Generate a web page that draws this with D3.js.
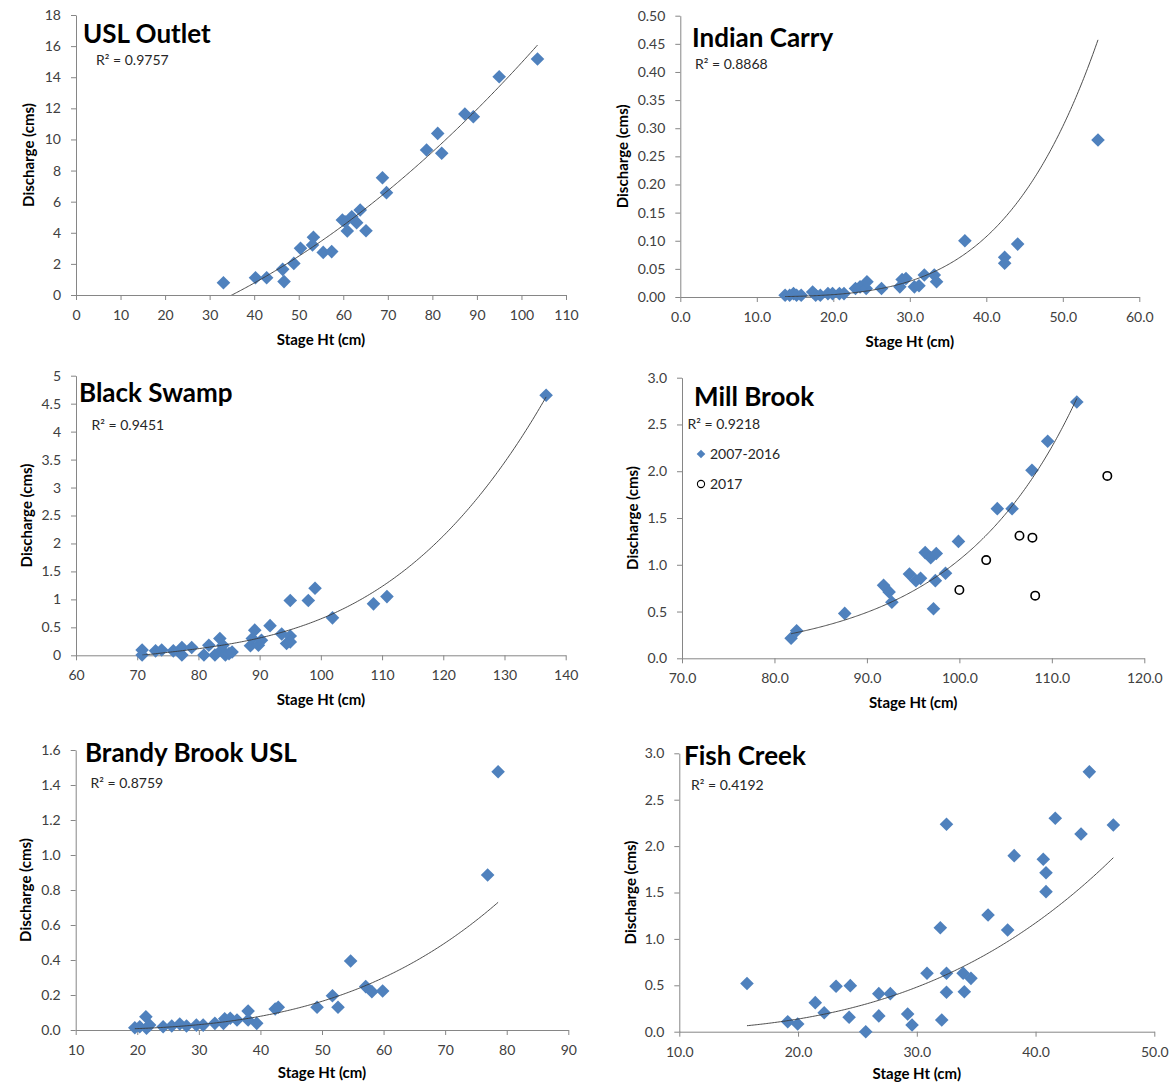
<!DOCTYPE html>
<html>
<head>
<meta charset="utf-8">
<script src="https://cdn.jsdelivr.net/npm/d3@7"></script>
<style>
  body { margin: 0; background: #fff; }
  svg { display: block; }
  text { font-family: Lato, "Open Sans", "DejaVu Sans", sans-serif; }
</style>
</head>
<body>
<svg id="chart" width="1172" height="1086"></svg>
<script>
// ---------- USL Outlet ----------
const uslStage = [33.1, 40.3, 42.8, 46.4, 46.7, 48.9, 50.4, 53.3, 53.1, 55.5, 57.4, 59.8, 60.4, 60.9, 61.9, 63.0, 63.8, 65.1, 68.8, 69.7, 78.7, 81.2, 82.1, 87.3, 89.2, 95.0, 103.6];
const uslDischarge = [0.79, 1.11, 1.11, 1.65, 0.86, 2.03, 3.0, 3.71, 3.21, 2.74, 2.79, 4.82, 4.71, 4.11, 5.03, 4.65, 5.46, 4.13, 7.54, 6.58, 9.32, 10.39, 9.11, 11.64, 11.46, 14.03, 15.17];
const uslTrendCoef = [-3.6035, 0.0586, 0.001267];          // 2nd-order polynomial
const uslXTicks = [0, 10, 20, 30, 40, 50, 60, 70, 80, 90, 100, 110];
const uslYTicks = [0, 2, 4, 6, 8, 10, 12, 14, 16, 18];

// ---------- Indian Carry ----------
const icStage = [13.7, 14.3, 14.8, 15.2, 15.8, 17.3, 17.7, 18.3, 19.3, 19.9, 20.8, 21.4, 22.9, 23.5, 24.3, 24.4, 26.3, 28.7, 29.0, 29.5, 30.6, 31.2, 31.9, 33.2, 33.5, 37.2, 42.4, 42.4, 44.1, 54.6];
const icDischarge = [0.003, 0.003, 0.006, 0.003, 0.003, 0.009, 0.003, 0.003, 0.006, 0.006, 0.006, 0.006, 0.015, 0.018, 0.015, 0.027, 0.015, 0.018, 0.031, 0.033, 0.018, 0.020, 0.039, 0.039, 0.027, 0.100, 0.0705, 0.060, 0.094, 0.279];
const icTrendCoef = [3.67e-9, 4.66];                        // power
const icXTicks = [0, 10, 20, 30, 40, 50, 60];
const icYTicks = [0, 0.05, 0.10, 0.15, 0.20, 0.25, 0.30, 0.35, 0.40, 0.45, 0.50];

// ---------- Black Swamp ----------
const bsStage = [70.8, 70.8, 73.0, 74.0, 75.9, 77.3, 77.3, 78.9, 80.9, 81.7, 82.7, 83.5, 83.8, 84.0, 84.4, 85.0, 85.5, 88.5, 88.8, 89.2, 89.8, 90.3, 91.7, 93.6, 94.4, 95.0, 95.0, 95.0, 97.95, 99.05, 101.9, 108.6, 110.8, 136.8];
const bsDischarge = [0.095, 0.005, 0.08, 0.095, 0.08, 0.14, 0.005, 0.14, 0.005, 0.18, 0.005, 0.30, 0.095, 0.18, 0.005, 0.03, 0.06, 0.17, 0.30, 0.45, 0.18, 0.27, 0.53, 0.38, 0.21, 0.345, 0.98, 0.24, 0.98, 1.20, 0.67, 0.92, 1.05, 4.65];
const bsTrendCoef = [-6.37576, 0.240284, -0.0031436, 1.4435e-5]; // 3rd-order polynomial
const bsXTicks = [60, 70, 80, 90, 100, 110, 120, 130, 140];
const bsYTicks = [0, 0.5, 1, 1.5, 2, 2.5, 3, 3.5, 4, 4.5, 5];

// ---------- Mill Brook ----------
const mbStage = [81.8, 82.4, 87.6, 91.8, 92.4, 92.7, 94.6, 95.3, 95.8, 96.3, 96.9, 97.5, 97.4, 97.2, 98.5, 99.9, 104.1, 105.7, 107.85, 109.55, 112.7];
const mbDischarge = [0.214, 0.295, 0.48, 0.78, 0.71, 0.60, 0.90, 0.83, 0.855, 1.13, 1.076, 1.12, 0.83, 0.53, 0.91, 1.25, 1.60, 1.60, 2.01, 2.32, 2.74];
const mb2017Stage = [100.0, 102.9, 106.5, 107.9, 108.2, 116.0];
const mb2017Discharge = [0.73, 1.05, 1.31, 1.29, 0.67, 1.95];
const mbSeriesNames = ["2007-2016", "2017"];
const mbTrendCoef = [0.000512, 0.0763];                     // exponential
const mbXTicks = [70, 80, 90, 100, 110, 120];
const mbYTicks = [0, 0.5, 1.0, 1.5, 2.0, 2.5, 3.0];

// ---------- Brandy Brook USL ----------
const bbStage = [19.6, 20.4, 21.4, 21.5, 22.0, 24.2, 25.6, 26.9, 28.0, 29.6, 30.7, 32.6, 34.0, 34.2, 35.1, 36.2, 38.0, 38.0, 39.4, 42.4, 42.9, 49.2, 51.7, 52.6, 54.65, 57.1, 58.1, 59.85, 76.9, 78.6];
const bbDischarge = [0.013, 0.019, 0.076, 0.010, 0.028, 0.019, 0.023, 0.034, 0.023, 0.028, 0.028, 0.038, 0.038, 0.064, 0.067, 0.057, 0.108, 0.057, 0.038, 0.12, 0.13, 0.13, 0.196, 0.13, 0.394, 0.248, 0.219, 0.223, 0.886, 1.476];
const bbTrendCoef = [4.057e-7, 3.3];                        // power
const bbXTicks = [10, 20, 30, 40, 50, 60, 70, 80, 90];
const bbYTicks = [0, 0.2, 0.4, 0.6, 0.8, 1.0, 1.2, 1.4, 1.6];

// ---------- Fish Creek ----------
const fcStage = [15.7, 19.13, 19.97, 21.45, 22.2, 23.2, 24.4, 24.3, 25.7, 26.8, 26.8, 27.77, 29.23, 29.6, 30.86, 31.98, 32.1, 32.5, 32.5, 32.5, 33.9, 34.0, 34.56, 36.0, 37.65, 38.2, 40.65, 40.88, 40.88, 41.66, 43.83, 44.53, 46.55];
const fcDischarge = [0.52, 0.108, 0.083, 0.313, 0.205, 0.49, 0.496, 0.155, 0.0, 0.41, 0.17, 0.41, 0.19, 0.072, 0.63, 1.12, 0.126, 2.235, 0.63, 0.425, 0.63, 0.43, 0.575, 1.258, 1.096, 1.897, 1.858, 1.713, 1.509, 2.30, 2.13, 2.80, 2.227];
const fcTrendCoef = [1.266e-5, 3.1];                        // power
const fcXTicks = [10, 20, 30, 40, 50];
const fcYTicks = [0, 0.5, 1.0, 1.5, 2.0, 2.5, 3.0];

const siteNames = ["USL Outlet", "Indian Carry", "Black Swamp", "Mill Brook", "Brandy Brook USL", "Fish Creek"];
const rSquared = ["0.9757", "0.8868", "0.9451", "0.9218", "0.8759", "0.4192"];

// ---------- layout ----------
const BLUE = "#4F81BD";
const AXIS = "#868686";
const zip = (xs, ys) => xs.map((v, i) => ({ x: v, y: ys[i] }));

const panels = [
  { name: siteNames[0], r2: rSquared[0], pts: zip(uslStage, uslDischarge), trend: ["poly", uslTrendCoef],
    xTicks: uslXTicks, yTicks: uslYTicks, xFmt: "d", yFmt: "d",
    left: 76, right: 566, top: 15, bottom: 295, yTitleDx: 47, xTitleDy: 50,
    title: [83, 42.5], r2Pos: [96, 65] },
  { name: siteNames[1], r2: rSquared[1], pts: zip(icStage, icDischarge), trend: ["power", icTrendCoef],
    xTicks: icXTicks, yTicks: icYTicks, xFmt: ".1f", yFmt: ".2f",
    left: 680.3, right: 1139.3, top: 15.7, bottom: 297, yTitleDx: 57.5, xTitleDy: 50,
    title: [692, 46.5], r2Pos: [695, 69] },
  { name: siteNames[2], r2: rSquared[2], pts: zip(bsStage, bsDischarge), trend: ["poly", bsTrendCoef],
    xTicks: bsXTicks, yTicks: bsYTicks, xFmt: "d", yFmt: "~g",
    left: 76, right: 565.7, top: 375.7, bottom: 655.3, yTitleDx: 49.5, xTitleDy: 50,
    title: [79, 401.5], r2Pos: [91.5, 430] },
  { name: siteNames[3], r2: rSquared[3], pts: zip(mbStage, mbDischarge), trend: ["exp", mbTrendCoef],
    extra: zip(mb2017Stage, mb2017Discharge), legend: mbSeriesNames,
    xTicks: mbXTicks, yTicks: mbYTicks, xFmt: ".1f", yFmt: ".1f",
    left: 682, right: 1144.3, top: 377.7, bottom: 658.3, yTitleDx: 49.5, xTitleDy: 50,
    title: [694, 405.5], r2Pos: [687.5, 428.5] },
  { name: siteNames[4], r2: rSquared[4], pts: zip(bbStage, bbDischarge), trend: ["power", bbTrendCoef],
    xTicks: bbXTicks, yTicks: bbYTicks, xFmt: "d", yFmt: ".1f",
    left: 75.7, right: 568.3, top: 750, bottom: 1030, yTitleDx: 49.5, xTitleDy: 48,
    title: [85, 761.5], r2Pos: [90.5, 787.5] },
  { name: siteNames[5], r2: rSquared[5], pts: zip(fcStage, fcDischarge), trend: ["power", fcTrendCoef],
    xTicks: fcXTicks, yTicks: fcYTicks, xFmt: ".1f", yFmt: ".1f",
    left: 679.3, right: 1154.3, top: 753.3, bottom: 1031.7, yTitleDx: 49, xTitleDy: 47,
    title: [684, 765], r2Pos: [691, 789.5] }
];

function trendFn([type, c]) {
  if (type === "poly") return v => c.reduce((s, k, i) => s + k * Math.pow(v, i), 0);
  if (type === "power") return v => c[0] * Math.pow(v, c[1]);
  return v => c[0] * Math.exp(c[1] * v);
}

const diamond = r => `M0,${-r}L${r},0L0,${r}L${-r},0Z`;
const svg = d3.select("#chart");

panels.forEach((p, idx) => {
  const x = d3.scaleLinear().domain(d3.extent(p.xTicks)).range([p.left, p.right]);
  const y = d3.scaleLinear().domain(d3.extent(p.yTicks)).range([p.bottom, p.top]);
  const g = svg.append("g");

  // axes
  const xAxis = d3.axisBottom(x).tickValues(p.xTicks).tickFormat(d3.format(p.xFmt))
    .tickSizeInner(5).tickSizeOuter(0).tickPadding(10);
  const yAxis = d3.axisLeft(y).tickValues(p.yTicks).tickFormat(d3.format(p.yFmt))
    .tickSizeInner(5).tickSizeOuter(0).tickPadding(10);
  [g.append("g").attr("transform", `translate(0,${p.bottom})`).call(xAxis),
   g.append("g").attr("transform", `translate(${p.left},0)`).call(yAxis)]
    .forEach(a => {
      a.select(".domain").attr("stroke", AXIS).attr("stroke-width", 1);
      a.selectAll(".tick line").attr("stroke", AXIS);
      a.selectAll(".tick text").attr("fill", "#404040").style("font-size", "14px");
    });

  // axis titles
  g.append("text")
    .attr("x", (p.left + p.right) / 2).attr("y", p.bottom + p.xTitleDy)
    .attr("text-anchor", "middle").style("font-size", "15px").style("font-weight", "bold")
    .text("Stage Ht (cm)");
  g.append("text")
    .attr("transform", `translate(${p.left - p.yTitleDx},${(p.top + p.bottom) / 2}) rotate(-90)`)
    .attr("text-anchor", "middle").attr("dy", "0.35em")
    .style("font-size", "15px").style("font-weight", "bold")
    .text("Discharge (cms)");

  // markers
  g.append("g").selectAll("path").data(p.pts).join("path")
    .attr("d", diamond(6.8))
    .attr("transform", d => `translate(${x(d.x)},${y(d.y)})`)
    .attr("fill", BLUE);

  if (p.extra) {
    g.append("g").selectAll("circle").data(p.extra).join("circle")
      .attr("cx", d => x(d.x)).attr("cy", d => y(d.y)).attr("r", 4.2)
      .attr("fill", "none").attr("stroke", "#000").attr("stroke-width", 1.6);
  }

  // trend line over the range of the fitted series
  const clipId = "clip" + idx;
  svg.append("clipPath").attr("id", clipId).append("rect")
    .attr("x", p.left).attr("y", p.top).attr("width", p.right - p.left).attr("height", p.bottom - p.top);
  const f = trendFn(p.trend);
  const [lo, hi] = d3.extent(p.pts, d => d.x);
  const curve = d3.range(0, 241).map(i => { const v = lo + (hi - lo) * i / 240; return [v, f(v)]; });
  g.append("path").attr("clip-path", `url(#${clipId})`)
    .attr("d", d3.line().x(d => x(d[0])).y(d => y(d[1]))(curve))
    .attr("fill", "none").attr("stroke", "#3a3a3a").attr("stroke-width", 0.9);

  // titles
  g.append("text").attr("x", p.title[0]).attr("y", p.title[1])
    .style("font-size", "26px").style("font-weight", "bold").attr("fill", "#000")
    .text(p.name);
  g.append("text").attr("x", p.r2Pos[0]).attr("y", p.r2Pos[1])
    .style("font-size", "14px").attr("fill", "#262626")
    .text(`R² = ${p.r2}`);

  // legend
  if (p.legend) {
    const lg = g.append("g").style("font-size", "14px").attr("fill", "#262626");
    lg.append("path").attr("d", diamond(4.3)).attr("transform", "translate(701,454)").attr("fill", BLUE);
    lg.append("text").attr("x", 710).attr("y", 459).text(p.legend[0]);
    lg.append("circle").attr("cx", 701).attr("cy", 484).attr("r", 3.6)
      .attr("fill", "none").attr("stroke", "#000").attr("stroke-width", 1.1);
    lg.append("text").attr("x", 710).attr("y", 489).text(p.legend[1]);
  }
});
</script>
</body>
</html>
